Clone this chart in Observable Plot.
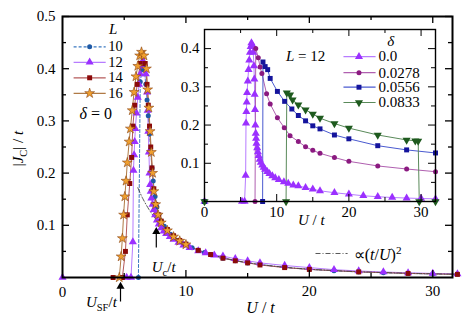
<!DOCTYPE html>
<html><head><meta charset="utf-8">
<script src="https://cdn.jsdelivr.net/npm/d3@7"></script>
<script src="https://cdn.jsdelivr.net/npm/@observablehq/plot@0.6"></script>
<style>
body{margin:0;background:#fff;}
#wrap{position:relative;width:463px;height:321px;}
#wrap svg{position:absolute;left:0;top:0;overflow:visible;}
</style></head><body><div id="wrap"></div>
<script>
// ---------- data (U/t, |Jc|/t) ----------
const L10 = [[6.15,0],[6.3,0.375],[6.45,0.398],[6.6,0.405],[6.75,0.37],[6.85,0.34],[6.95,0.31],[7.05,0.275],[7.15,0.24],[7.25,0.21],[7.35,0.185],[7.5,0.155],[7.65,0.135],[7.8,0.12],[8,0.108],[8.25,0.098],[8.5,0.09],[8.75,0.083],[9,0.078],[9.5,0.07],[10,0.063],[10.5,0.057],[11,0.052],[11.5,0.048],[12,0.044],[13,0.037],[14,0.032],[15,0.028],[16,0.025],[18,0.019],[20,0.0155],[22,0.0128],[24,0.0107],[26,0.0091],[28,0.0078],[30,0.0068],[32,0.006]];
const L12 = [[0,0],[5.2,0],[5.55,0],[5.7,0.068],[5.75,0.205],[5.8,0.235],[5.85,0.26],[5.9,0.285],[6.0,0.315],[6.1,0.345],[6.2,0.37],[6.3,0.39],[6.4,0.405],[6.5,0.415],[6.6,0.41],[6.75,0.39],[6.85,0.355],[6.9,0.32],[6.95,0.28],[7.0,0.24],[7.05,0.2],[7.1,0.178],[7.15,0.165],[7.2,0.152],[7.3,0.14],[7.4,0.13],[7.5,0.12],[7.65,0.11],[7.8,0.102],[8.0,0.095],[8.2,0.089],[8.4,0.084],[8.7,0.078],[9.0,0.073],[9.4,0.067],[9.8,0.062],[10.3,0.057],[11,0.051],[11.6,0.047],[12.3,0.043],[13,0.041],[14,0.036],[15,0.032],[16,0.028],[18,0.023],[20,0.019],[22,0.015],[24,0.0125],[26,0.0105],[28,0.009],[30,0.0078],[32,0.007]];
const L14 = [[4.1,0],[4.85,0],[5.1,0.05],[5.25,0.12],[5.45,0.18],[5.6,0.23],[5.7,0.29],[5.85,0.33],[6.05,0.37],[6.3,0.41],[6.5,0.425],[6.7,0.41],[6.85,0.37],[6.95,0.33],[7.05,0.29],[7.15,0.25],[7.25,0.21],[7.4,0.17],[7.55,0.14],[7.8,0.12],[8,0.108],[8.5,0.092],[9,0.08],[9.5,0.071],[10,0.064],[11,0.052],[12,0.044],[13,0.037],[14,0.032],[15,0.028],[16,0.024],[18,0.019],[20,0.0155],[24,0.0107],[28,0.0078],[32,0.006]];
const L16 = [[4.6,0],[4.75,0.04],[4.85,0.075],[4.95,0.12],[5.05,0.155],[5.15,0.185],[5.25,0.22],[5.4,0.26],[5.5,0.285],[5.65,0.32],[5.8,0.355],[5.95,0.385],[6.1,0.405],[6.25,0.425],[6.4,0.432],[6.6,0.425],[6.8,0.4],[6.9,0.36],[7.0,0.325],[7.1,0.28],[7.2,0.24],[7.3,0.2],[7.4,0.165],[7.55,0.14],[7.75,0.12],[8.0,0.105],[8.5,0.09],[9,0.078],[9.5,0.07],[10,0.063]];
const FIT = [[6.1,0.172],[6.5,0.1515],[7,0.1306],[7.5,0.1138],[8,0.1],[9,0.079],[10,0.064],[11,0.0529],[12,0.0444],[14,0.0327],[16,0.025],[18,0.0198],[20,0.016],[23,0.0121],[26,0.0095],[29,0.0076],[32,0.00625]];
// inset, L = 12
const D0278 = [[0,0],[7.0,0],[7.1,0.4],[7.45,0.376],[7.7,0.352],[7.95,0.335],[8.6,0.282],[9.1,0.255],[10.1,0.219],[11.05,0.193],[11.85,0.172],[13,0.157],[14,0.143],[15,0.134],[16,0.126],[18,0.115],[20,0.105],[24,0.093],[28,0.085],[32,0.078]];
const D0556 = [[0,0],[8.05,0],[8.1,0.365],[8.4,0.353],[8.75,0.345],[9.1,0.322],[10.1,0.288],[11.1,0.262],[12.1,0.242],[13,0.225],[14,0.211],[15,0.198],[16,0.19],[18,0.174],[20,0.164],[24,0.146],[28,0.135],[32,0.127]];
const D0833 = [[0,0],[11.3,0],[11.4,0.284],[11.85,0.279],[12.2,0.266],[13,0.253],[14,0.24],[15,0.229],[16,0.218],[18,0.204],[20,0.192],[24,0.174],[28,0.161],[29.2,0.159],[29.6,0.158],[29.75,0],[32,0]];
const mainLegend = ["10","12","14","16"];
const insetLegend = ["0.0","0.0278","0.0556","0.0833"];
const mainXTicks = [10,20,30], mainXMinor = [5,15,25];
const mainYTicks = [0.1,0.2,0.3,0.4,0.5], mainYMinor = [0.05,0.15,0.25,0.35,0.45];
const insetXTicks = [0,10,20,30], insetXMinor = [5,15,25];
const insetYTicks = [0.1,0.2,0.3,0.4], insetYMinor = [0.05,0.15,0.25,0.35];

const serif = "'Liberation Serif','Times New Roman',serif";
const X = d=>d[0], Y = d=>d[1];
const fmt1 = d=>d.toFixed(1);

const RICH = {
  "Jc-label": [["|",""],["J","i"],["C","sub"],["| / ",""],["t","i"]],
  "Ut-label": [["U","i"],[" / ",""],["t","i"]],
  "Usf-label": [["U","i"],["SF","sub"],["/",""],["t","i"]],
  "Uc-label": [["U","i"],["c","sub"],["/",""],["t","i"]],
  "fit-label": [["\u221D(",""],["t","i"],["/",""],["U","i"],[")",""],["2","sup"]],
  "d0-label": [["\u03B4","i"],[" = 0",""]],
  "L12-label": [["L","i"],[" = 12",""]]
};
function rich(svg){
  svg.querySelectorAll("text").forEach(t=>{
    const parts = RICH[t.textContent]; if(!parts) return;
    t.textContent = "";
    let shift = 0;
    for (const [s,st] of parts){
      const ts = document.createElementNS("http://www.w3.org/2000/svg","tspan");
      ts.textContent = s;
      if (st==="i") ts.setAttribute("font-style","italic");
      const target = st==="sub"?4:st==="sup"?-6:0;
      if (target!==shift){ ts.setAttribute("dy", target-shift); shift = target; }
      if (st==="sub"||st==="sup") ts.setAttribute("font-size","70%");
      t.appendChild(ts);
    }
  });
}

function ticksFor(W,H,xs,xm,ys,ym,sw){
  const M=7, m=4;
  return [
    Plot.tickX(xs,{x:d=>d,insetTop:H-M,strokeWidth:sw}),
    Plot.tickX(xs,{x:d=>d,insetBottom:H-M,strokeWidth:sw}),
    Plot.tickX(xm,{x:d=>d,insetTop:H-m,strokeWidth:sw}),
    Plot.tickX(xm,{x:d=>d,insetBottom:H-m,strokeWidth:sw}),
    Plot.tickY(ys,{y:d=>d,insetRight:W-M,strokeWidth:sw}),
    Plot.tickY(ys,{y:d=>d,insetLeft:W-M,strokeWidth:sw}),
    Plot.tickY(ym,{y:d=>d,insetRight:W-m,strokeWidth:sw}),
    Plot.tickY(ym,{y:d=>d,insetLeft:W-m,strokeWidth:sw})
  ];
}

const C = {
  b:"#1f5aa6", bl:"#3a78c0",
  v:"#9b30ff", vl:"#b77cff",
  r:"#8b0a0a", rl:"#b55a5a",
  o:"#f0a030", os:"#8b4513", ol:"#b07a45",
  m:"#8b1a80", ml:"#b060b0",
  n:"#14149c", nl:"#4a5ad0",
  g:"#1e5a1e", gl:"#5a8a5a"
};

const mainRows = [0.442,0.4123,0.3826,0.3529];
const mainStyles = [
  {line:C.bl, dash:"3,2", sym:"circle", fill:C.b, stroke:"none", r:2.5},
  {line:C.vl, dash:null, sym:"triangle", fill:C.v, stroke:"none", r:3},
  {line:C.rl, dash:null, sym:"square", fill:C.r, stroke:"none", r:2.8},
  {line:C.ol, dash:null, sym:"star", fill:C.o, stroke:C.os, r:3.1}
];
const mainSeries = [L10,L12,L14,L16];

const mainMarks = [];
mainSeries.forEach((s,i)=>{
  const st = mainStyles[i];
  mainMarks.push(Plot.line(s,{x:X,y:Y,stroke:st.line,strokeWidth:1,strokeDasharray:st.dash}));
});
mainMarks.push(Plot.line(FIT,{x:X,y:Y,stroke:"#444",strokeWidth:0.9,strokeDasharray:"5,2,1,2",curve:"catmull-rom"}));
mainSeries.forEach((s,i)=>{
  const st = mainStyles[i];
  mainMarks.push(Plot.dot(s,{x:X,y:Y,symbol:st.sym,fill:st.fill,stroke:st.stroke,strokeWidth:0.6,r:st.r}));
});
// legend
mainLegend.forEach((lab,i)=>{
  const st = mainStyles[i];
  mainMarks.push(Plot.link([lab],{x1:0.9,x2:3.5,y1:mainRows[i],y2:mainRows[i],stroke:st.line,strokeWidth:1.2,strokeDasharray:st.dash}));
  mainMarks.push(Plot.dot([lab],{x:2.2,y:mainRows[i],symbol:st.sym,fill:st.fill,stroke:st.stroke,strokeWidth:0.6,r:st.r}));
  mainMarks.push(Plot.text([lab],{x:3.7,y:mainRows[i],text:d=>d,textAnchor:"start",fontSize:14.5}));
});
mainMarks.push(Plot.text(["L"],{x:4.1,y:0.476,text:d=>d,fontStyle:"italic",fontSize:15}));
mainMarks.push(Plot.text(["d0-label"],{x:2.7,y:0.314,text:d=>d,fontSize:16}));
// arrows
mainMarks.push(Plot.link([0],{x1:4.7,x2:4.7,y1:-0.046,y2:-0.015,stroke:"#000",strokeWidth:1.2}));
mainMarks.push(Plot.dot([0],{x:4.7,y:-0.017,symbol:"triangle",fill:"#000",r:3}));
mainMarks.push(Plot.text(["Usf-label"],{x:4.4,y:-0.048,text:d=>d,textAnchor:"end",fontSize:15}));
mainMarks.push(Plot.link([0],{x1:7.6,x2:7.6,y1:0.0575,y2:0.09,stroke:"#000",strokeWidth:1.2}));
mainMarks.push(Plot.dot([0],{x:7.6,y:0.088,symbol:"triangle",fill:"#000",r:3}));
mainMarks.push(Plot.text(["Uc-label"],{x:8.2,y:0.019,text:d=>d,fontSize:15}));
// fit legend
mainMarks.push(Plot.link([0],{x1:20.5,x2:23.1,y1:0.046,y2:0.046,stroke:"#444",strokeWidth:0.9,strokeDasharray:"5,2,1,2"}));
mainMarks.push(Plot.text(["fit-label"],{x:23.6,y:0.044,text:d=>d,textAnchor:"start",fontSize:16}));
// axis labels
mainMarks.push(Plot.text(["Jc-label"],{x:-3.6,y:0.247,text:d=>d,rotate:-90,fontSize:15}));
mainMarks.push(Plot.text(["Ut-label"],{x:16.05,y:-0.058,text:d=>d,fontSize:16}));
mainMarks.push(Plot.text(["0"],{x:0,y:-0.028,text:d=>d,fontSize:15}));
// axes
mainMarks.push(...ticksFor(390,261,mainXTicks,mainXMinor,mainYTicks,mainYMinor,1.3));
mainMarks.push(Plot.axisX(mainXTicks,{tickSize:0,tickPadding:8,label:null,fontSize:15}));
mainMarks.push(Plot.axisY(mainYTicks,{tickSize:0,tickPadding:7,label:null,fontSize:15,tickFormat:fmt1}));
mainMarks.push(Plot.frame({stroke:"#000",strokeWidth:2}));

const main = Plot.plot({
  width:463, height:321, marginLeft:62, marginRight:11, marginTop:16, marginBottom:44,
  x:{domain:[0,31.6]}, y:{domain:[0,0.5]},
  style:{fontFamily:serif, fontSize:"15px", background:"transparent", color:"#000"},
  marks: mainMarks
});

// ---------- inset ----------
const insetStyles = [
  {line:C.vl, sym:"triangle", fill:C.v, r:3, rot:0},
  {line:C.ml, sym:"circle", fill:C.m, r:2.5, rot:0},
  {line:C.nl, sym:"square", fill:C.n, r:2.8, rot:0},
  {line:C.gl, sym:"triangle", fill:C.g, r:3, rot:180}
];
const insetSeries = [L12, D0278, D0556, D0833];
const insetRows = [0.379,0.337,0.299,0.259];
const im = [Plot.frame({fill:"#fff",stroke:"none"})];
insetSeries.forEach((s,i)=>{
  im.push(Plot.line(s,{x:X,y:Y,stroke:insetStyles[i].line,strokeWidth:1}));
});
insetSeries.forEach((s,i)=>{
  const st=insetStyles[i];
  im.push(Plot.dot(s,{x:X,y:Y,symbol:st.sym,fill:st.fill,stroke:"none",r:st.r,rotate:st.rot}));
});
insetLegend.forEach((lab,i)=>{
  const st=insetStyles[i];
  im.push(Plot.link([lab],{x1:19.25,x2:23.7,y1:insetRows[i],y2:insetRows[i],stroke:st.line,strokeWidth:1.2}));
  im.push(Plot.dot([lab],{x:21.4,y:insetRows[i],symbol:st.sym,fill:st.fill,stroke:"none",r:st.r,rotate:st.rot}));
  im.push(Plot.text([lab],{x:24.1,y:insetRows[i],text:d=>d,textAnchor:"start",fontSize:15}));
});
im.push(Plot.text(["\u03B4"],{x:25.8,y:0.42,text:d=>d,fontStyle:"italic",fontSize:15}));
im.push(Plot.text(["L12-label"],{x:14.0,y:0.381,text:d=>d,fontSize:15}));
im.push(...ticksFor(231,172,insetXTicks,insetXMinor,insetYTicks,insetYMinor,1));
im.push(Plot.axisX(insetXTicks,{tickSize:0,tickPadding:5,label:null,fontSize:15}));
im.push(Plot.axisY(insetYTicks,{tickSize:0,tickPadding:5,label:null,fontSize:15,tickFormat:fmt1}));
im.push(Plot.text(["Ut-label"],{x:14.8,y:-0.048,text:d=>d,fontSize:15}));
im.push(Plot.frame({stroke:"#000",strokeWidth:1.4}));

const inset = Plot.plot({
  width:463, height:321, marginLeft:204, marginRight:28, marginTop:29, marginBottom:120,
  x:{domain:[0,32]}, y:{domain:[0,0.45]},
  style:{fontFamily:serif, fontSize:"15px", background:"transparent", color:"#000"},
  marks: im
});

rich(main); rich(inset);
const wrap = document.getElementById("wrap");
wrap.appendChild(main);
wrap.appendChild(inset);
</script></body></html>
